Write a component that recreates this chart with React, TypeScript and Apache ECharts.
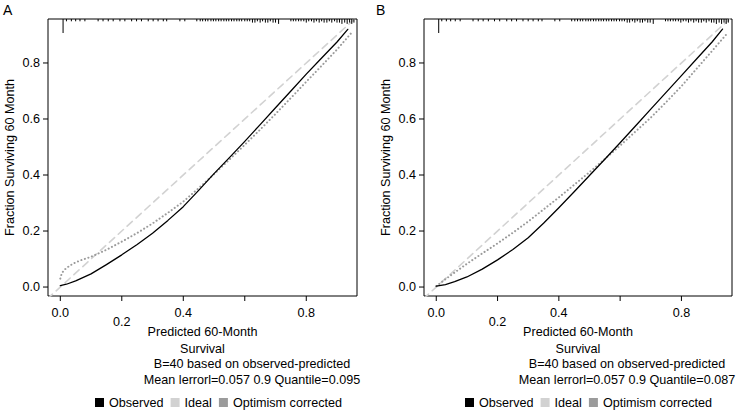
import React, { useEffect, useRef } from "react";
import * as echarts from "echarts";

// ---- data ----
const tickValues = [0, 0.2, 0.4, 0.6, 0.8];
const yLabelValues = [0, 0.2, 0.4, 0.6, 0.8];
const xLabelUpper = [0, 0.4, 0.8];
const xLabelLower = [0.2];
const legendNames = ["Observed", "Ideal", "Optimism corrected"];

const idealX = [-0.1, 1.0];
const idealY = [-0.1, 1.0];

// Panel A
const obsAX = [0, 0.02, 0.05, 0.1, 0.15, 0.2, 0.25, 0.3, 0.35, 0.4, 0.45, 0.5, 0.55, 0.6, 0.65, 0.7, 0.75, 0.8, 0.85, 0.9, 0.935];
const obsAY = [0.005, 0.01, 0.022, 0.047, 0.08, 0.115, 0.152, 0.192, 0.238, 0.287, 0.345, 0.405, 0.462, 0.52, 0.58, 0.64, 0.7, 0.76, 0.818, 0.875, 0.92];
const optAX = [0, 0.005, 0.015, 0.03, 0.05, 0.07, 0.1, 0.15, 0.2, 0.25, 0.3, 0.35, 0.4, 0.45, 0.5, 0.55, 0.6, 0.65, 0.7, 0.75, 0.8, 0.85, 0.9, 0.945];
const optAY = [0.03, 0.05, 0.063, 0.076, 0.088, 0.097, 0.108, 0.133, 0.162, 0.193, 0.227, 0.265, 0.305, 0.353, 0.403, 0.455, 0.508, 0.562, 0.618, 0.675, 0.733, 0.79, 0.848, 0.905];

// Panel B
const obsBX = [0, 0.03, 0.06, 0.1, 0.15, 0.2, 0.25, 0.3, 0.35, 0.4, 0.45, 0.5, 0.55, 0.6, 0.65, 0.7, 0.75, 0.8, 0.85, 0.9, 0.934];
const obsBY = [0.003, 0.009, 0.019, 0.036, 0.064, 0.097, 0.134, 0.176, 0.228, 0.283, 0.34, 0.398, 0.456, 0.515, 0.575, 0.635, 0.695, 0.755, 0.815, 0.875, 0.921];
const optBX = [0, 0.03, 0.06, 0.1, 0.15, 0.2, 0.25, 0.3, 0.35, 0.4, 0.45, 0.5, 0.55, 0.6, 0.65, 0.7, 0.75, 0.8, 0.85, 0.9, 0.945];
const optBY = [0.003, 0.028, 0.052, 0.083, 0.12, 0.156, 0.194, 0.234, 0.277, 0.32, 0.365, 0.41, 0.457, 0.505, 0.555, 0.605, 0.66, 0.717, 0.78, 0.843, 0.9];

// rug of predicted values (position, relative frequency)
const rugAX = [0.009, 0.02, 0.036, 0.05, 0.064, 0.08, 0.123, 0.139, 0.156, 0.172, 0.194, 0.21, 0.232, 0.248, 0.264, 0.286, 0.302, 0.318, 0.335, 0.346, 0.389, 0.405,
  0.444, 0.455, 0.463, 0.472, 0.48, 0.49, 0.498, 0.506, 0.515, 0.523, 0.532, 0.54, 0.548, 0.557, 0.565, 0.574, 0.582, 0.59, 0.6, 0.608, 0.616, 0.625, 0.633, 0.641, 0.65, 0.658, 0.667, 0.675, 0.683, 0.692, 0.7, 0.71,
  0.75, 0.758, 0.766, 0.775, 0.783, 0.792, 0.8, 0.808, 0.817, 0.825, 0.833, 0.842, 0.85, 0.858, 0.867, 0.875, 0.883, 0.892, 0.9, 0.908, 0.916, 0.925, 0.933, 0.941, 0.948, 0.955];
const rugAN = [10, 1, 1, 1, 1, 1, 1, 1, 1, 1, 1, 1, 1, 1, 1, 1, 1, 1, 1, 1, 1, 1,
  1, 1, 1, 1, 1, 1, 1, 1, 1, 1, 1, 1, 1, 1, 1, 1, 1, 1, 1, 1, 1, 2, 2, 1, 2, 1, 2, 2, 1, 2, 2, 3,
  1, 1, 1, 1, 1, 1, 2, 1, 1, 2, 1, 2, 1, 2, 2, 1, 2, 1, 2, 2, 3, 2, 3, 2, 3, 2];
const rugBX = [0.008, 0.018, 0.033, 0.047, 0.062, 0.078, 0.12, 0.137, 0.153, 0.17, 0.19, 0.207, 0.23, 0.246, 0.262, 0.283, 0.3, 0.316, 0.333, 0.345, 0.387, 0.403,
  0.442, 0.452, 0.461, 0.47, 0.478, 0.488, 0.496, 0.504, 0.513, 0.521, 0.53, 0.538, 0.546, 0.555, 0.563, 0.572, 0.58, 0.588, 0.598, 0.606, 0.614, 0.623, 0.631, 0.64, 0.648, 0.656, 0.665, 0.673, 0.681, 0.69, 0.698, 0.708,
  0.748, 0.756, 0.764, 0.773, 0.781, 0.79, 0.798, 0.806, 0.815, 0.823, 0.831, 0.84, 0.848, 0.856, 0.865, 0.873, 0.881, 0.89, 0.898, 0.906, 0.914, 0.923, 0.931, 0.939, 0.946, 0.953];
const rugBN = rugAN;

const subA1 = "B=40 based on observed-predicted";
const subA2 = "Mean lerrorl=0.057 0.9 Quantile=0.095";
const subB1 = "B=40 based on observed-predicted";
const subB2 = "Mean lerrorl=0.057 0.9 Quantile=0.087";
const xTitle = "Predicted 60-Month\nSurvival";
const yTitle = "Fraction Surviving 60 Month";

const FONT = "'Liberation Sans', Arial, Helvetica, sans-serif";
const FS = 12.6;
const C_OBS = "#000000";
const C_IDEAL = "#d2d2d2";
const C_OPT = "#9b9b9b";

const zip = (xs: number[], ys: number[]) => xs.map((x, i) => [x, ys[i]]);

export default function App() {
  const ref = useRef<HTMLDivElement>(null);
  useEffect(() => {
    if (!ref.current) return;
    const chart = echarts.init(ref.current, undefined, { renderer: "svg" });
    const XMIN = -0.04, XMAX = 0.965, YMIN = -0.032, YMAX = 0.957;
    const grids = [
      { left: 48, top: 19, width: 309, height: 277, show: true, borderColor: "#000", borderWidth: 1, backgroundColor: "transparent" },
      { left: 424, top: 19, width: 308, height: 277, show: true, borderColor: "#000", borderWidth: 1, backgroundColor: "transparent" },
    ];
    const txt = { fontFamily: FONT, fontSize: FS, color: "#000" };
    const mkX = (gi: number, vals: number[], margin: number, main: boolean) => ({
      type: "value", gridIndex: gi, min: XMIN, max: XMAX, position: "bottom",
      axisLine: { show: false, onZero: false },
      axisTick: { show: false },
      axisLabel: { show: true, customValues: vals, margin, formatter: (v: number) => v.toFixed(1), ...txt },
      splitLine: { show: false },
      name: main ? xTitle : "", nameLocation: "middle", nameGap: 27,
      nameTextStyle: { ...txt, lineHeight: 17 },
    });
    const mkY = (gi: number) => ({
      type: "value", gridIndex: gi, min: YMIN, max: YMAX,
      axisLine: { show: false, onZero: false },
      axisTick: { show: false },
      axisLabel: { show: true, customValues: yLabelValues, margin: 8, formatter: (v: number) => v.toFixed(1), ...txt },
      splitLine: { show: false },
      name: yTitle, nameLocation: "middle", nameGap: 32, nameTextStyle: { ...txt },
    });
    const rugSeries = (xi: number, yi: number, xs: number[], ns: number[]) => ({
      type: "custom", xAxisIndex: xi, yAxisIndex: yi, silent: true, clip: false, z: 5,
      data: xs.map((x, i) => [x, ns[i]]),
      renderItem: (params: any, api: any) => {
        const p = api.coord([api.value(0), 0]);
        const top = params.coordSys.y;
        return { type: "line", shape: { x1: p[0], y1: top, x2: p[0], y2: top + 1 + api.value(1) * 1.3 }, style: { stroke: "#000", lineWidth: 1 } };
      },
    });
    const lineSeries = (name: string, xi: number, yi: number, data: number[][], color: string, type: any, width: number, z: number) => ({
      type: "line", name, xAxisIndex: xi, yAxisIndex: yi, data, symbol: "none", smooth: false,
      lineStyle: { color, type, width, cap: "round", join: "round" }, itemStyle: { color }, z, clip: true,
    });
    const legendData = [
      { name: legendNames[0], itemStyle: { color: C_OBS } },
      { name: legendNames[1], itemStyle: { color: C_IDEAL } },
      { name: legendNames[2], itemStyle: { color: C_OPT } },
    ];
    const mkLegend = (left: number) => ({
      left, top: 396, orient: "horizontal", icon: "rect", itemWidth: 9, itemHeight: 9, itemGap: 7, padding: 0,
      selectedMode: false, textStyle: { ...txt, lineHeight: 13 }, data: legendData,
      itemStyle: { borderWidth: 0 }, lineStyle: { width: 0 },
    });
    const textGraphics: any[] = [
      { type: "text", left: 3, top: 3, style: { text: "A", font: `14px ${FONT}`, fill: "#000" } },
      { type: "text", left: 376, top: 3, style: { text: "B", font: `14px ${FONT}`, fill: "#000" } },
      { type: "text", x: 252, y: 364, style: { text: subA1, font: `${FS}px ${FONT}`, fill: "#000", textAlign: "center", textVerticalAlign: "middle" } },
      { type: "text", x: 252, y: 380, style: { text: subA2, font: `${FS}px ${FONT}`, fill: "#000", textAlign: "center", textVerticalAlign: "middle" } },
      { type: "text", x: 627, y: 364, style: { text: subB1, font: `${FS}px ${FONT}`, fill: "#000", textAlign: "center", textVerticalAlign: "middle" } },
      { type: "text", x: 627, y: 380, style: { text: subB2, font: `${FS}px ${FONT}`, fill: "#000", textAlign: "center", textVerticalAlign: "middle" } },
    ];
    chart.setOption({
      animation: false,
      grid: grids,
      xAxis: [mkX(0, xLabelUpper, 10, true), mkX(0, xLabelLower, 19, false), mkX(1, xLabelUpper, 10, true), mkX(1, xLabelLower, 19, false)],
      yAxis: [mkY(0), mkY(1)],
      legend: [mkLegend(95), mkLegend(465)],
      series: [
        lineSeries(legendNames[1], 0, 0, zip(idealX, idealY), C_IDEAL, [7, 5], 1.6, 1),
        lineSeries(legendNames[2], 0, 0, zip(optAX, optAY), C_OPT, [0.1, 3.6], 2, 2),
        lineSeries(legendNames[0], 0, 0, zip(obsAX, obsAY), C_OBS, "solid", 1.3, 3),
        rugSeries(0, 0, rugAX, rugAN),
        lineSeries(legendNames[1], 2, 1, zip(idealX, idealY), C_IDEAL, [7, 5], 1.6, 1),
        lineSeries(legendNames[2], 2, 1, zip(optBX, optBY), C_OPT, [0.1, 3.6], 2, 2),
        lineSeries(legendNames[0], 2, 1, zip(obsBX, obsBY), C_OBS, "solid", 1.3, 3),
        rugSeries(2, 1, rugBX, rugBN),
      ],
      graphic: textGraphics,
    });
    // tick marks outside the box, placed through the axes' scales
    const tickGraphics: any[] = [];
    [0, 1].forEach((gi) => {
      const g = grids[gi];
      const bottom = g.top + g.height;
      tickValues.forEach((v) => {
        const px = chart.convertToPixel({ gridIndex: gi } as any, [v, 0]) as number[];
        const py = chart.convertToPixel({ gridIndex: gi } as any, [0, v]) as number[];
        if (px) tickGraphics.push({ type: "line", silent: true, z: 10, shape: { x1: px[0], y1: bottom, x2: px[0], y2: bottom + 5 }, style: { stroke: "#000", lineWidth: 1 } });
        if (py) tickGraphics.push({ type: "line", silent: true, z: 10, shape: { x1: g.left - 5, y1: py[1], x2: g.left, y2: py[1] }, style: { stroke: "#000", lineWidth: 1 } });
      });
    });
    chart.setOption({ graphic: [...textGraphics, ...tickGraphics] });
    return () => chart.dispose();
  }, []);
  return <div ref={ref} style={{ position: "fixed", left: 0, top: 0, width: 745, height: 411, background: "#fff" }} />;
}
